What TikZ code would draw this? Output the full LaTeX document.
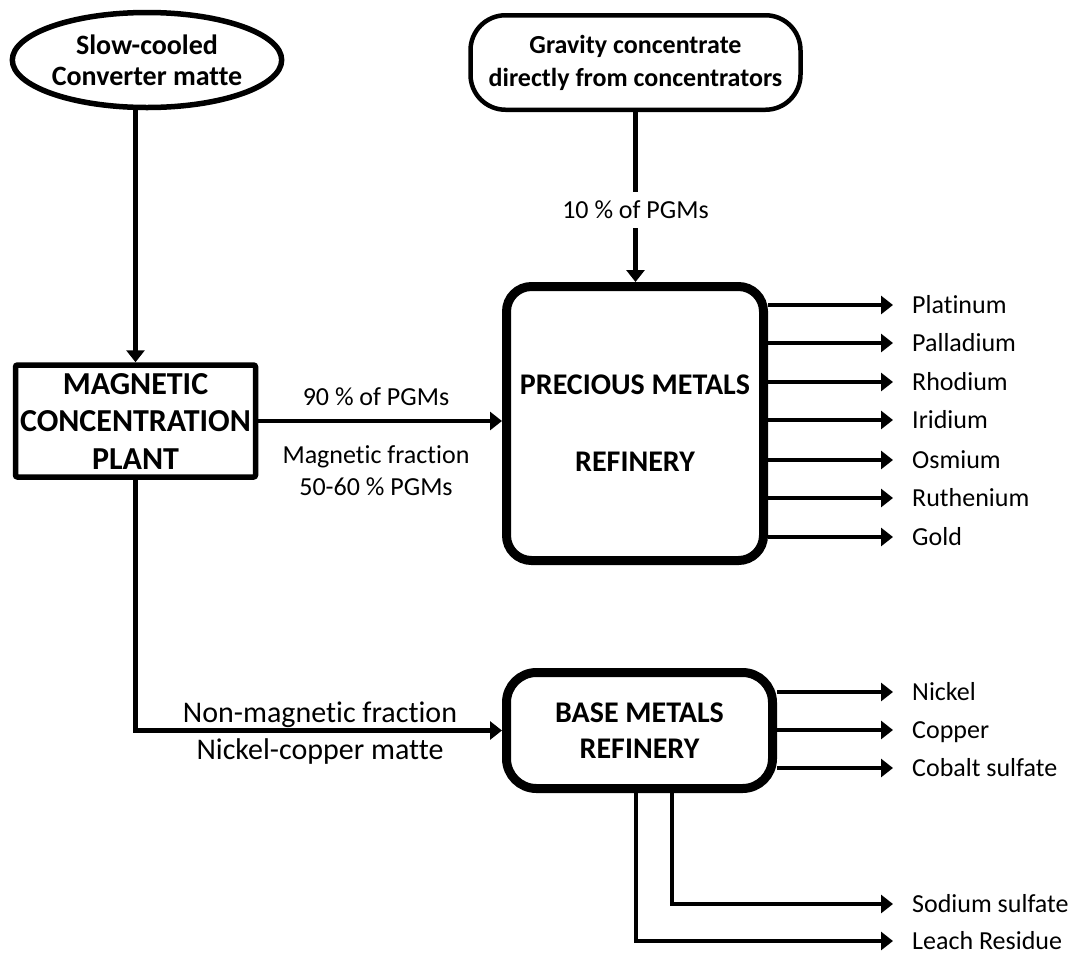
\documentclass[tikz,border=0pt]{standalone}
\usepackage{fontspec}
\setmainfont{Carlito}[Ligatures=NoCommon]
\usetikzlibrary{arrows.meta,shapes.geometric}
\tikzstyle{flow}=[line width=4.5pt, -{Triangle[length=12pt,width=18pt]}]
\tikzstyle{lbl}=[inner sep=0pt, text height=20pt, text depth=3.2pt, font=\fontsize{26}{31}\selectfont]
\tikzstyle{biglbl}=[inner sep=0pt, text height=23pt, text depth=3.7pt, font=\fontsize{30}{36}\selectfont]
\tikzstyle{product}=[lbl, anchor=west]
\tikzstyle{unit}=[draw, inner sep=0pt, align=center]

\begin{document}
\begin{tikzpicture}[x=1pt, y=-1pt]
\useasboundingbox (0,0) rectangle (1072,954);
% Feeds
    \node[unit, ellipse, line width=5.5pt, minimum width=258pt, minimum height=95pt,
          font=\bfseries\fontsize{28}{31}\selectfont] (matte) at (147,60) {Slow-cooled\\Converter matte};
    \node[unit, rounded corners=35pt, line width=4.5pt, minimum width=330pt, minimum height=94.5pt,
          font=\bfseries\fontsize{26}{33}\selectfont] (grav) at (635.5,62.5) {Gravity concentrate\\directly from concentrators};
% Plants
    \node[unit, rounded corners=2pt, line width=5.5pt, minimum width=240pt, minimum height=112pt,
          font=\bfseries\fontsize{32}{37.5}\selectfont] (mcp) at (135.5,421) {MAGNETIC\\CONCENTRATION\\PLANT};
    \node[unit, rounded corners=25pt, line width=9pt, minimum width=257pt, minimum height=274pt,
          font=\bfseries\fontsize{30}{36}\selectfont] (pmr) at (635,423.5) {PRECIOUS METALS\\[41pt]REFINERY};
    \node[unit, rounded corners=30pt, line width=9pt, minimum width=266pt, minimum height=116pt,
          font=\bfseries\fontsize{30}{36}\selectfont] (bmr) at (639.5,730.5) {BASE METALS\\REFINERY};
% Feed streams
    \draw[flow] (mcp.north |- matte.south) -- (mcp.north);
    \draw[flow] (grav.south) -- node[lbl, fill=white, inner ysep=6pt, inner xsep=2pt, pos=0.576] (pgm10) {10 \% of PGMs} (grav.south |- pmr.north);
    \draw[flow] (mcp.east) -- (pmr.west |- mcp.east);
    \node[lbl] (pgm90) at (376,397) {90 \% of PGMs};
    \node[lbl] (mag1) at (376,455) {Magnetic fraction};
    \node[lbl] (mag2) at (376,487) {50-60 \% PGMs};
    \draw[flow] (mcp.south) |- (bmr.west);
    \node[biglbl] (nonmag1) at (320,713) {Non-magnetic fraction};
    \node[biglbl] (nonmag2) at (320,750) {Nickel-copper matte};
% Precious metals
    \foreach \y/\name/\txt in {305/pt/Platinum, 343/pd/Palladium, 382/rh/Rhodium, 420/ir/Iridium,
                               460/os/Osmium, 498/ru/Ruthenium, 537/au/Gold} {
        \node[product] (\name) at (912,\y) {\txt};
        \draw[flow, shorten >=19pt] (pmr.east |- \name.west) -- (\name.west);
    }
% Base metals
    \foreach \y/\name/\txt in {692/ni/Nickel, 730/cu/Copper, 768/co/Cobalt sulfate} {
        \node[product] (\name) at (912,\y) {\txt};
        \draw[flow, shorten >=19pt] (bmr.east |- \name.west) -- (\name.west);
    }
    \node[product] (na) at (912,904) {Sodium sulfate};
    \node[product] (res) at (912,941) {Leach Residue};
    \draw[flow, shorten >=19pt] ([xshift=32.5pt]bmr.south) |- (na.west);
    \draw[flow, shorten >=19pt] ([xshift=-3.5pt]bmr.south) |- (res.west);
\end{tikzpicture}
\end{document}
